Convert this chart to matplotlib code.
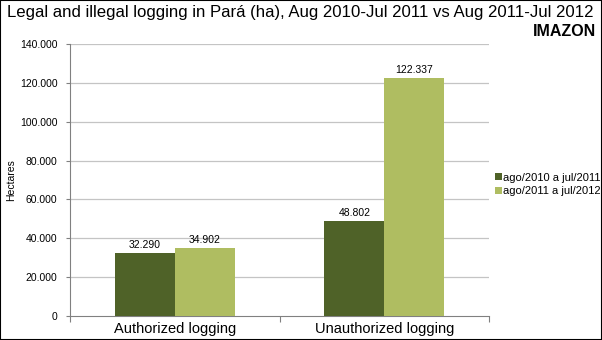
import matplotlib
matplotlib.use("Agg")
import matplotlib.pyplot as plt
from matplotlib.patches import Rectangle
import numpy as np

categories = ["Authorized logging", "Unauthorized logging"]
series_names = ["ago/2010 a jul/2011", "ago/2011 a jul/2012"]
values_2011 = [32290, 48802]
values_2012 = [34902, 122337]
colors = ["#4f6228", "#afbd61"]
y_ticks = [0, 20000, 40000, 60000, 80000, 100000, 120000, 140000]


def fmt(v):
    return f"{v:,}".replace(",", ".")


small = "Liberation Sans"

fig = plt.figure(figsize=(6.02, 3.40), dpi=100)
ax = fig.add_axes([70 / 602, 24 / 340, 419 / 602, 272 / 340])

x = np.arange(len(categories))
w = 0.286
b1 = ax.bar(x - w / 2, values_2011, w, color=colors[0], label=series_names[0], zorder=3)
b2 = ax.bar(x + w / 2, values_2012, w, color=colors[1], label=series_names[1], zorder=3)

for bars, vals in ((b1, values_2011), (b2, values_2012)):
    for r, v in zip(bars, vals):
        ax.text(r.get_x() + r.get_width() / 2, v + 1800, fmt(v), ha="center",
                va="bottom", fontsize=7.5, color="black", family=small, zorder=4)

ax.set_xlim(-0.5, 1.5)
ax.set_ylim(0, 140000)
ax.set_yticks(y_ticks)
ax.set_yticklabels([fmt(t) for t in y_ticks], fontsize=7.5, family=small)
ax.set_xticks([-0.5, 0.5, 1.5])
ax.set_xticklabels([])
ax.set_xticks(x, minor=True)
ax.set_xticklabels(categories, minor=True, fontsize=10.5, family="Liberation Sans")
ax.tick_params(axis="x", which="minor", length=0, pad=4)
ax.tick_params(axis="x", which="major", length=4, color="#808080", direction="out")
ax.tick_params(axis="y", length=3, color="#808080", pad=6)
for yt in y_ticks[1:]:
    ax.axhline(yt, color="#c4c4c4", lw=0.9, zorder=1)
for s in ("top", "right"):
    ax.spines[s].set_visible(False)
ax.spines["left"].set_color("#808080")
ax.spines["bottom"].set_color("#808080")
ax.set_ylabel("Hectares", fontsize=7.5, family=small)
ax.yaxis.set_label_coords(-(70 - 16) / 419, 0.5)

leg = fig.legend(handles=[b1, b2], loc="upper left", bbox_to_anchor=(486 / 602, 176 / 340),
                 frameon=False, handlelength=0.6, handleheight=0.6, handletextpad=0.15,
                 labelspacing=0.3, borderpad=0.3, prop=dict(size=8, family=small))

fig.text(7 / 602, 1 - 13 / 340, "Legal and illegal logging in Pará (ha), Aug 2010-Jul 2011 vs Aug 2011-Jul 2012",
         fontsize=12.1, family="Liberation Sans", va="center", ha="left")
fig.text(596 / 602, 1 - 31 / 340, "IMAZON", fontsize=11.5, family="Liberation Sans",
         fontweight="bold", va="center", ha="right")

fig.patches.append(Rectangle((0, 0), 1, 1, transform=fig.transFigure, fill=False,
                             edgecolor="black", lw=1.5))

fig.savefig("out.png", dpi=100)
